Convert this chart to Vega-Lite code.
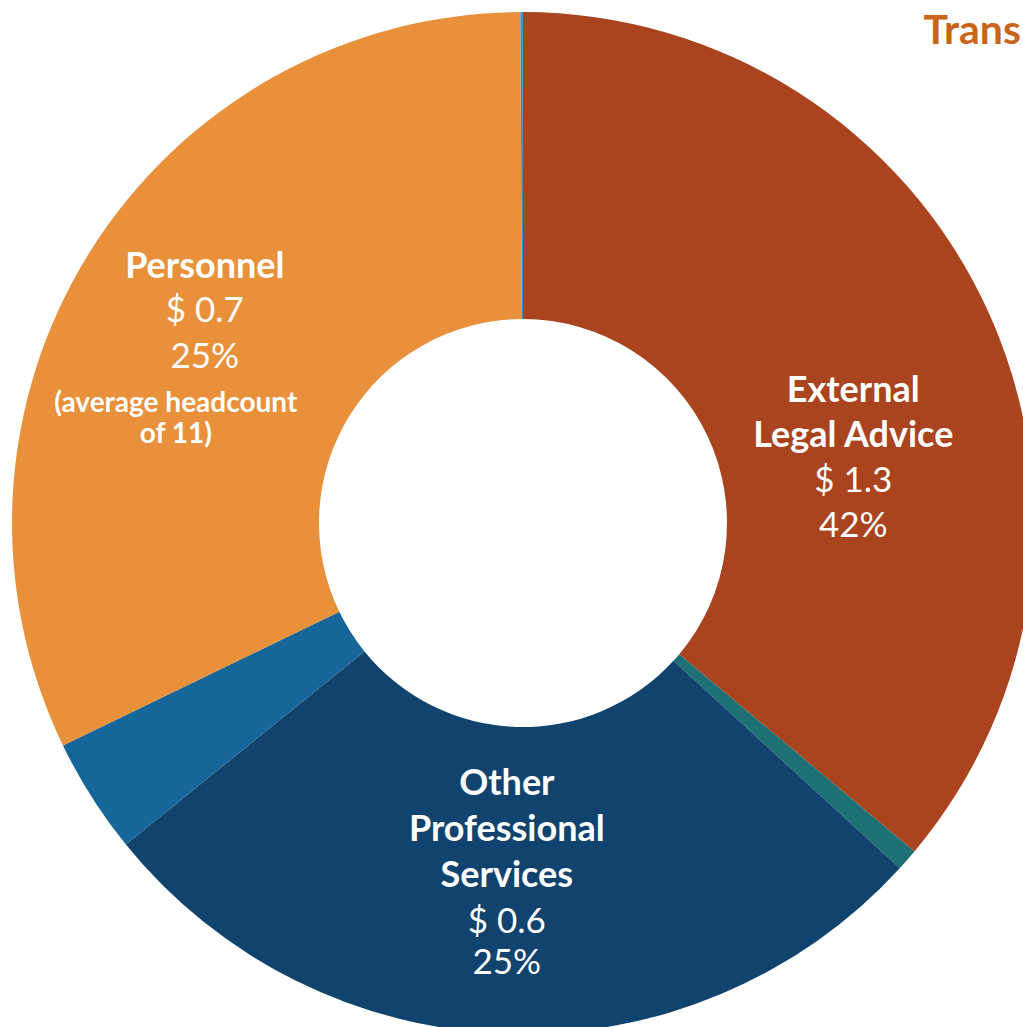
{
  "$schema": "https://vega.github.io/schema/vega-lite/v6.json",
  "width": 1000,
  "height": 1008,
  "autosize": {"type": "none"},
  "padding": {"left": 23, "top": 19, "right": 0, "bottom": 0},
  "background": "white",
  "view": {"stroke": null},
  "title": {
    "text": "Trans",
    "anchor": "end",
    "frame": "group",
    "orient": "top",
    "baseline": "alphabetic",
    "offset": 0,
    "dy": 73,
    "dx": -2,
    "font": "Lato",
    "fontSize": 41,
    "fontWeight": "bold",
    "color": "#C8651A"
  },
  "data": {
    "values": [
      {"category": "External Legal Advice", "share": 130.0, "order": 1, "name": "External\nLegal Advice", "amount": "$ 1.3\n42%", "note": ""},
      {"category": "Other Item A", "share": 2.5, "order": 2, "name": "", "amount": "", "note": ""},
      {"category": "Other Professional Services", "share": 98.5, "order": 3, "name": "Other\nProfessional\nServices", "amount": "$ 0.6\n25%", "note": ""},
      {"category": "Other Item B", "share": 13.2, "order": 4, "name": "", "amount": "", "note": ""},
      {"category": "Personnel", "share": 115.5, "order": 5, "name": "Personnel", "amount": "$ 0.7\n25%", "note": "(average headcount\nof 11)"},
      {"category": "Other Item C", "share": 0.3, "order": 6, "name": "", "amount": "", "note": ""}
    ]
  },
  "encoding": {
    "theta": {"field": "share", "type": "quantitative", "stack": true},
    "order": {"field": "order", "type": "quantitative"}
  },
  "layer": [
    {
      "mark": {"type": "arc", "innerRadius": 204, "outerRadius": 511},
      "encoding": {
        "color": {
          "field": "category",
          "type": "nominal",
          "legend": null,
          "scale": {
            "domain": ["External Legal Advice", "Other Item A", "Other Professional Services", "Other Item B", "Personnel", "Other Item C"],
            "range": ["#A9441E", "#1D7073", "#10436E", "#17669A", "#E8913A", "#3D8FD0"]
          }
        }
      }
    },
    {
      "mark": {"type": "text", "radius": 360, "dx": 4, "dy": 31, "font": "Lato", "fontSize": 36, "fontWeight": "bold", "fill": "white", "lineBreak": "\n", "lineHeight": 45, "align": "center", "baseline": "alphabetic"},
      "encoding": {
        "detail": {"field": "category"},
        "text": {"condition": {"test": "datum.category === 'External Legal Advice'", "field": "name"}, "value": ""}
      }
    },
    {
      "mark": {"type": "text", "radius": 360, "dx": 4, "dy": 121, "font": "Lato", "fontSize": 35, "fontWeight": "normal", "fill": "white", "lineBreak": "\n", "lineHeight": 45, "align": "center", "baseline": "alphabetic"},
      "encoding": {
        "detail": {"field": "category"},
        "text": {"condition": {"test": "datum.category === 'External Legal Advice'", "field": "amount"}, "value": ""}
      }
    },
    {
      "mark": {"type": "text", "radius": 300, "dx": -7, "dy": -28, "font": "Lato", "fontSize": 36, "fontWeight": "bold", "fill": "white", "lineBreak": "\n", "lineHeight": 46, "align": "center", "baseline": "alphabetic"},
      "encoding": {
        "detail": {"field": "category"},
        "text": {"condition": {"test": "datum.category === 'Other Professional Services'", "field": "name"}, "value": ""}
      }
    },
    {
      "mark": {"type": "text", "radius": 300, "dx": -7, "dy": 110, "font": "Lato", "fontSize": 35, "fontWeight": "normal", "fill": "white", "lineBreak": "\n", "lineHeight": 41, "align": "center", "baseline": "alphabetic"},
      "encoding": {
        "detail": {"field": "category"},
        "text": {"condition": {"test": "datum.category === 'Other Professional Services'", "field": "amount"}, "value": ""}
      }
    },
    {
      "mark": {"type": "text", "radius": 375, "dx": 0, "dy": -47, "font": "Lato", "fontSize": 36, "fontWeight": "bold", "fill": "white", "lineBreak": "\n", "lineHeight": 45, "align": "center", "baseline": "alphabetic"},
      "encoding": {
        "detail": {"field": "category"},
        "text": {"condition": {"test": "datum.category === 'Personnel'", "field": "name"}, "value": ""}
      }
    },
    {
      "mark": {"type": "text", "radius": 375, "dx": 0, "dy": -3, "font": "Lato", "fontSize": 35, "fontWeight": "normal", "fill": "white", "lineBreak": "\n", "lineHeight": 46, "align": "center", "baseline": "alphabetic"},
      "encoding": {
        "detail": {"field": "category"},
        "text": {"condition": {"test": "datum.category === 'Personnel'", "field": "amount"}, "value": ""}
      }
    },
    {
      "mark": {"type": "text", "radius": 375, "dx": -29, "dy": 87, "font": "Lato", "fontSize": 28, "fontWeight": "bold", "fill": "white", "lineBreak": "\n", "lineHeight": 31, "align": "center", "baseline": "alphabetic"},
      "encoding": {
        "detail": {"field": "category"},
        "text": {"condition": {"test": "datum.category === 'Personnel'", "field": "note"}, "value": ""}
      }
    }
  ]
}
